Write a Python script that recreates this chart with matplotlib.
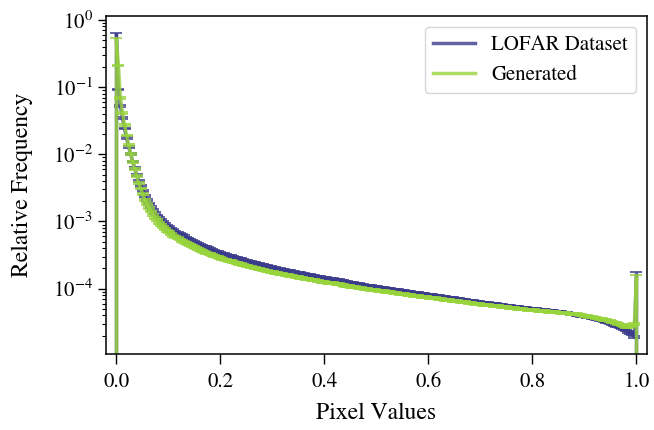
import numpy as np
import matplotlib
matplotlib.use("Agg")
import matplotlib.pyplot as plt
from matplotlib.lines import Line2D

# ---------------- data (relative frequency, in units of 1e-4) ----------------
n_bins = 256
series_names = ["LOFAR Dataset", "Generated"]

lofar_e4 = [
    6000, 920, 530, 350, 243, 175, 130, 100, 78, 62,
    49, 40, 34, 28.6, 24, 21, 18.5, 16.5, 14.9, 13.5,
    12.3, 11.4, 10.5, 9.8, 9.2, 8.65, 8.2, 7.8, 7.4, 7.06,
    6.76, 6.49, 6.24, 6.01, 5.79, 5.57, 5.37, 5.18, 5.00, 4.83,
    4.68, 4.53, 4.39, 4.26, 4.13, 4.01, 3.90, 3.79, 3.69, 3.59,
    3.49, 3.40, 3.32, 3.25, 3.17, 3.10, 3.04, 2.97, 2.91, 2.85,
    2.79, 2.74, 2.69, 2.63, 2.58, 2.53, 2.49, 2.44, 2.40, 2.35,
    2.31, 2.27, 2.23, 2.20, 2.16, 2.12, 2.09, 2.05, 2.02, 1.98,
    1.95, 1.92, 1.90, 1.87, 1.85, 1.82, 1.79, 1.77, 1.74, 1.72,
    1.69, 1.67, 1.65, 1.62, 1.60, 1.58, 1.56, 1.54, 1.52, 1.50,
    1.48, 1.46, 1.45, 1.43, 1.41, 1.40, 1.38, 1.36, 1.35, 1.33,
    1.31, 1.29, 1.27, 1.26, 1.24, 1.22, 1.21, 1.19, 1.18, 1.16,
    1.15, 1.14, 1.12, 1.11, 1.10, 1.09, 1.08, 1.07, 1.055, 1.04,
    1.03, 1.02, 1.01, 0.996, 0.984, 0.973, 0.963, 0.954, 0.944, 0.935,
    0.925, 0.916, 0.907, 0.897, 0.888, 0.879, 0.871, 0.862, 0.854, 0.845,
    0.837, 0.829, 0.821, 0.814, 0.806, 0.798, 0.790, 0.781, 0.773, 0.764,
    0.756, 0.748, 0.741, 0.733, 0.726, 0.718, 0.711, 0.704, 0.696, 0.689,
    0.682, 0.675, 0.669, 0.662, 0.656, 0.649, 0.643, 0.637, 0.630, 0.624,
    0.618, 0.612, 0.607, 0.601, 0.596, 0.590, 0.585, 0.580, 0.574, 0.569,
    0.564, 0.559, 0.554, 0.550, 0.545, 0.540, 0.535, 0.530, 0.526, 0.521,
    0.516, 0.513, 0.509, 0.506, 0.502, 0.499, 0.494, 0.491, 0.486, 0.483,
    0.479, 0.475, 0.471, 0.467, 0.462, 0.458, 0.454, 0.450, 0.446, 0.441,
    0.437, 0.432, 0.428, 0.423, 0.418, 0.413, 0.408, 0.403, 0.397, 0.392,
    0.386, 0.380, 0.374, 0.368, 0.362, 0.356, 0.349, 0.343, 0.336, 0.329,
    0.322, 0.315, 0.308, 0.299, 0.291, 0.282, 0.274, 0.265, 0.256, 0.248,
    0.239, 0.229, 0.219, 0.208, 0.191, 1.5,
]

generated_e4 = [
    5000, 2100, 690, 415, 272, 191, 136, 102, 77, 60,
    47, 37.3, 31.0, 25.5, 21.1, 18.3, 15.9, 14.1, 12.6, 11.4,
    10.4, 9.59, 8.83, 8.24, 7.74, 7.27, 6.90, 6.49, 6.16, 5.87,
    5.62, 5.40, 5.19, 5.00, 4.82, 4.63, 4.47, 4.31, 4.16, 4.02,
    3.89, 3.77, 3.65, 3.54, 3.44, 3.34, 3.28, 3.19, 3.10, 3.02,
    2.94, 2.86, 2.79, 2.73, 2.67, 2.61, 2.56, 2.50, 2.45, 2.40,
    2.35, 2.31, 2.27, 2.22, 2.18, 2.14, 2.10, 2.06, 2.03, 1.99,
    1.96, 1.93, 1.89, 1.87, 1.84, 1.80, 1.78, 1.75, 1.72, 1.69,
    1.67, 1.64, 1.62, 1.60, 1.59, 1.56, 1.54, 1.52, 1.49, 1.48,
    1.46, 1.44, 1.42, 1.40, 1.38, 1.37, 1.35, 1.33, 1.32, 1.30,
    1.28, 1.27, 1.26, 1.24, 1.23, 1.22, 1.20, 1.19, 1.18, 1.16,
    1.15, 1.13, 1.11, 1.11, 1.09, 1.07, 1.06, 1.05, 1.04, 1.02,
    1.02, 1.01, 0.991, 0.983, 0.975, 0.967, 0.959, 0.950, 0.941, 0.931,
    0.921, 0.912, 0.903, 0.894, 0.884, 0.874, 0.865, 0.857, 0.849, 0.841,
    0.833, 0.825, 0.818, 0.809, 0.802, 0.795, 0.788, 0.781, 0.775, 0.766,
    0.760, 0.754, 0.747, 0.742, 0.734, 0.728, 0.721, 0.714, 0.707, 0.700,
    0.693, 0.687, 0.680, 0.674, 0.668, 0.661, 0.656, 0.650, 0.643, 0.637,
    0.632, 0.626, 0.621, 0.614, 0.609, 0.604, 0.599, 0.594, 0.588, 0.583,
    0.578, 0.573, 0.569, 0.564, 0.560, 0.554, 0.550, 0.546, 0.541, 0.537,
    0.532, 0.528, 0.524, 0.521, 0.517, 0.512, 0.508, 0.504, 0.500, 0.496,
    0.492, 0.489, 0.486, 0.483, 0.480, 0.476, 0.473, 0.470, 0.468, 0.465,
    0.461, 0.458, 0.455, 0.452, 0.449, 0.446, 0.444, 0.441, 0.438, 0.435,
    0.432, 0.429, 0.426, 0.423, 0.421, 0.418, 0.415, 0.412, 0.406, 0.400,
    0.394, 0.388, 0.383, 0.378, 0.372, 0.366, 0.361, 0.356, 0.351, 0.345,
    0.340, 0.335, 0.330, 0.322, 0.315, 0.308, 0.301, 0.294, 0.287, 0.280,
    0.272, 0.270, 0.275, 0.285, 0.300, 1.4,
]

# error bars: relative std error, with the first/last bins having large spread
rel_err = 0.03
lofar_first_upper_e4 = 400      # cap at ~0.64
lofar_last_upper_e4 = 0.3       # cap at ~1.8e-4
generated_first_upper_e4 = 400  # cap at ~0.54
generated_last_upper_e4 = 0.2   # cap at ~1.6e-4

x_ticks = [0.0, 0.2, 0.4, 0.6, 0.8, 1.0]
x_label = "Pixel Values"
y_label = "Relative Frequency"

# ---------------- style ----------------
plt.rcParams["font.family"] = ["STIXGeneral", "DejaVu Serif"]
plt.rcParams["mathtext.fontset"] = "stix"

purple = "#3c3c8c"
green = "#98d43c"
alpha = 0.8
lw = 2.5

fig = plt.figure(figsize=(6.54, 4.30), dpi=100)
ax = fig.add_axes([0.162, 0.177, 0.827, 0.785])

x = np.linspace(0, 1, n_bins)


def build(vals_e4, first_up, last_up):
    v = np.array(vals_e4, dtype=float) * 1e-4
    lo = v * rel_err
    hi = v * rel_err
    lo[0] = v[0]
    lo[-1] = v[-1]
    hi[0] = first_up * 1e-4
    hi[-1] = last_up * 1e-4
    return v, lo, hi


series = [
    (build(lofar_e4, lofar_first_upper_e4, lofar_last_upper_e4), purple, series_names[0]),
    (build(generated_e4, generated_first_upper_e4, generated_last_upper_e4), green, series_names[1]),
]

ax.set_yscale("log")
for (v, lo, hi), col, name in series:
    ax.errorbar(x, v, yerr=[lo, hi], fmt="none", ecolor=col, alpha=alpha,
                elinewidth=lw, capsize=4.2, capthick=1.4)
    ax.plot(x, v, color=col, alpha=alpha, lw=lw, label=name)

ax.set_xlim(-0.02, 1.02)
ax.set_ylim(1.07e-5, 1.13)
ax.set_xticks(x_ticks)
ax.set_xticklabels([f"{t:.1f}" for t in x_ticks])

ax.tick_params(axis="both", which="major", direction="out", length=6, width=1.0,
               labelsize=15, color="black")
ax.tick_params(axis="x", which="major", length=7, pad=6)
ax.tick_params(axis="y", which="minor", direction="out", length=3.2, width=0.8)
for s in ax.spines.values():
    s.set_linewidth(1.1)
    s.set_color("black")

ax.set_xlabel(x_label, fontsize=17, labelpad=8)
ax.set_ylabel(y_label, fontsize=17, labelpad=14)

handles = [Line2D([0], [0], color=purple, alpha=alpha, lw=lw),
           Line2D([0], [0], color=green, alpha=alpha, lw=lw)]
ax.legend(handles, series_names, loc="upper right", fontsize=15,
          frameon=True, fancybox=True, edgecolor="0.8", framealpha=0.8)

fig.savefig("out.png", dpi=100)
